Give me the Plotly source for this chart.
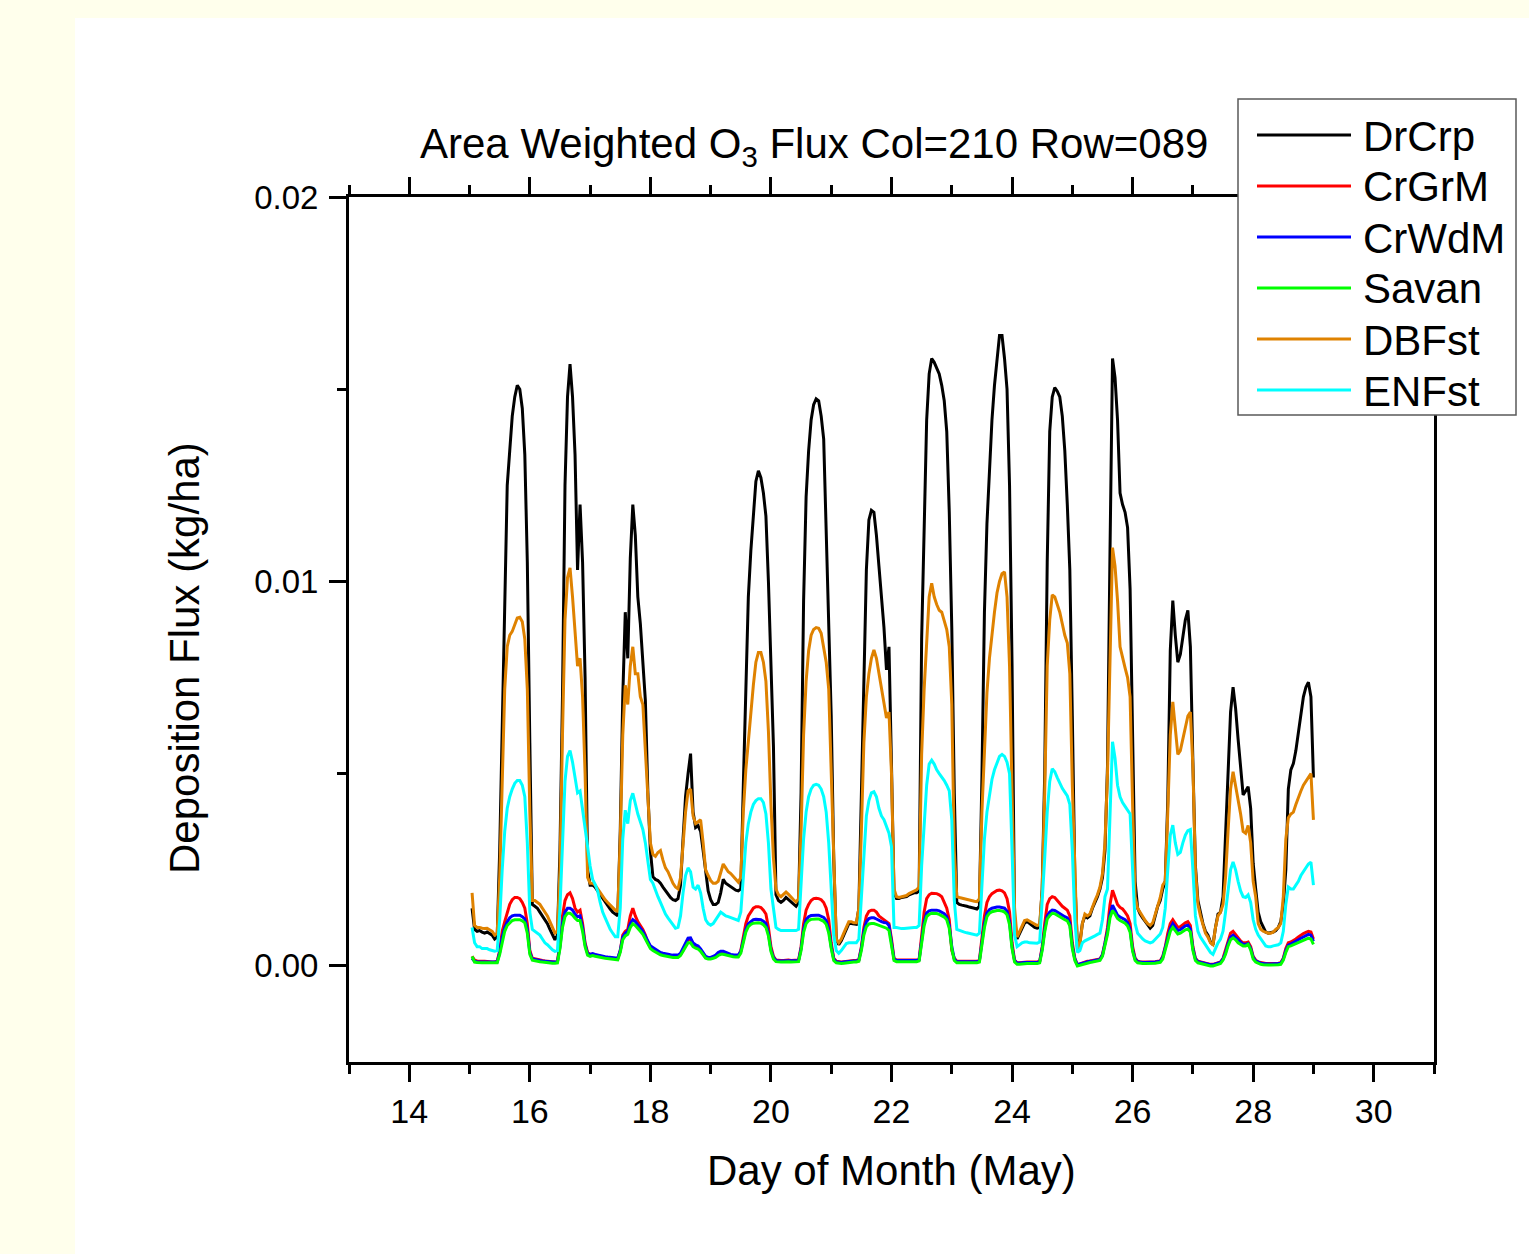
import plotly.graph_objects as go

# ---------------- data (hourly, units of 1e-5 kg/ha) ----------------
# each row = one day, hours 01..24 (hour 24 = 00 of next day); first row starts 15 May 01:00
start_day = 15
series_names = ["DrCrp", "CrGrM", "CrWdM", "Savan", "DBFst", "ENFst"]
series_colors = ["#000000", "#FF0000", "#0000FF", "#00FF00", "#DF8200", "#00FFFF"]

DrCrp = [
    [150,95,90,92,88,85,88,85,80,70,75,300,620,980,1250,1340,1430,1480,1510,1500,1450,1330,1050,580],
    [160,155,150,140,130,120,110,95,80,68,80,300,700,1250,1480,1565,1480,1330,1030,1200,1050,750,250,210],
    [210,205,195,185,175,165,155,148,140,135,130,350,700,920,800,1060,1200,1120,960,890,800,690,450,300],
    [232,225,222,215,205,195,185,178,172,170,175,210,330,440,500,552,400,360,365,350,300,240,195,172],
    [160,160,165,190,225,215,210,205,200,197,195,200,470,750,960,1080,1180,1260,1288,1270,1230,1170,1000,780],
    [570,185,170,165,170,178,172,165,160,155,165,450,950,1220,1340,1420,1460,1475,1470,1430,1370,1120,900,650],
    [280,70,55,65,80,95,110,110,108,108,150,450,800,1030,1160,1185,1180,1120,1040,960,880,770,830,520],
    [190,175,175,178,180,180,185,188,190,190,195,850,1180,1420,1540,1580,1570,1555,1540,1510,1470,1390,1180,880],
    [450,165,160,158,157,155,153,152,150,148,155,490,920,1150,1300,1420,1510,1585,1640,1640,1580,1500,1250,780],
    [120,70,85,100,112,115,110,105,100,98,100,200,500,1050,1390,1480,1504,1495,1480,1430,1340,1200,1030,650],
    [230,50,60,110,130,125,130,150,165,180,200,230,300,520,1080,1580,1530,1420,1230,1200,1180,1140,980,550],
    [220,150,135,125,115,105,98,105,130,155,170,200,220,430,820,950,860,790,810,860,900,925,830,530],
    [260,170,137,110,90,80,62,55,100,135,140,180,340,520,660,725,670,590,510,445,455,466,410,267],
    [200,140,115,100,88,85,86,88,92,100,115,160,250,460,510,526,560,610,660,700,725,738,700,490],
]

CrGrM = [
    [25,15,13,12,12,12,11,11,10,10,12,40,90,115,135,160,172,178,178,175,165,150,110,40],
    [20,18,16,15,14,13,12,12,11,10,12,60,130,170,185,190,175,150,140,145,110,60,35,30],
    [30,28,26,25,24,22,21,20,19,18,18,40,80,90,95,130,150,130,115,105,95,80,60,50],
    [45,40,35,32,30,28,27,26,25,25,25,30,40,55,68,70,55,50,48,40,30,22,20,20],
    [22,25,30,32,32,30,28,27,26,25,25,40,80,110,130,142,150,154,154,152,145,135,100,50],
    [25,15,14,14,14,15,15,14,14,14,15,50,110,145,160,170,175,176,175,172,165,150,120,60],
    [20,12,10,10,11,12,13,14,14,14,16,50,100,130,142,145,145,140,130,125,120,115,110,70],
    [20,15,15,15,15,15,15,15,15,15,17,80,140,175,185,189,189,188,185,180,165,150,120,40],
    [20,12,12,12,12,12,12,12,12,12,14,70,130,165,180,188,193,196,197,195,190,175,140,60],
    [15,8,8,9,10,10,10,10,10,10,12,50,110,160,175,180,178,170,162,155,150,145,130,60],
    [20,3,5,8,10,12,13,14,15,16,18,30,60,100,160,197,180,160,152,148,140,130,110,50],
    [20,12,10,10,10,10,10,10,11,12,13,25,50,85,110,120,110,100,102,108,112,115,105,50],
    [20,12,10,8,6,5,4,4,6,8,10,20,40,65,85,90,82,72,65,60,60,62,50,25],
    [15,10,8,7,6,6,6,6,6,7,8,20,45,60,62,65,70,75,80,84,87,90,88,70],
]

CrWdM = [
    [20,12,11,10,10,10,10,10,9,9,10,35,75,100,115,125,130,132,132,132,128,122,95,35],
    [18,16,15,14,13,12,11,11,10,10,11,50,110,140,150,150,145,135,128,130,100,55,32,30],
    [32,30,28,27,26,24,23,22,21,20,20,40,75,85,90,110,120,115,105,98,90,78,62,52],
    [48,43,38,35,33,31,30,29,28,28,28,33,45,60,72,73,60,55,52,44,34,25,22,22],
    [25,28,35,38,38,35,32,30,29,28,28,38,70,95,110,116,120,121,121,120,116,110,85,42],
    [22,14,13,13,13,14,14,13,13,13,14,45,95,120,128,131,132,132,132,130,126,118,95,50],
    [18,11,9,9,10,11,12,13,13,13,15,45,90,115,123,125,125,122,118,115,113,112,105,65],
    [18,14,14,14,14,14,14,14,14,14,16,70,115,138,143,145,145,145,143,140,136,128,105,50],
    [18,11,11,11,11,11,11,11,11,11,13,60,110,138,146,150,152,153,153,152,150,142,115,50],
    [14,7,7,8,9,9,9,9,9,9,11,45,95,130,140,145,144,140,135,130,128,125,112,50],
    [18,3,5,8,9,11,12,13,14,15,17,28,55,90,135,158,145,132,127,124,120,112,95,42],
    [18,11,9,9,9,9,9,9,10,11,12,22,45,75,98,110,100,92,94,100,104,106,96,45],
    [18,11,9,7,5,4,3,3,5,7,9,18,35,58,75,80,74,66,60,56,56,58,46,22],
    [13,9,7,6,5,5,5,5,5,6,7,18,40,54,57,60,64,68,72,76,79,82,80,64],
]

Savan = [
    [25,10,9,8,8,8,8,8,7,7,8,30,65,90,105,113,118,120,120,120,117,112,85,30],
    [15,13,12,11,10,9,8,8,7,7,8,45,100,128,137,137,132,124,118,118,90,50,28,25],
    [27,25,23,22,21,20,19,18,17,16,16,35,68,78,82,100,110,105,96,90,82,70,55,45],
    [40,36,32,29,27,25,24,23,22,22,22,27,38,52,60,60,50,46,44,38,28,20,18,18],
    [20,22,27,30,30,28,26,25,24,23,23,33,63,88,102,108,111,112,112,111,107,100,78,38],
    [18,11,10,10,10,11,11,10,10,10,11,40,87,110,118,121,122,122,122,120,116,108,86,45],
    [14,8,6,6,7,8,9,10,10,10,12,40,80,102,109,110,110,108,105,102,100,98,92,58],
    [14,11,11,11,11,11,11,11,11,11,13,63,105,128,134,137,137,136,134,131,127,120,98,45],
    [14,8,8,8,8,8,8,8,8,8,10,55,100,128,137,141,143,144,144,143,140,133,107,45],
    [10,4,4,5,6,6,6,6,6,6,8,40,88,122,131,137,136,132,127,122,120,117,104,45],
    [14,0,2,5,6,8,9,10,11,12,14,25,50,82,125,144,135,123,118,115,111,104,88,38],
    [14,8,6,6,6,6,6,6,7,8,9,18,40,68,90,100,92,83,85,90,94,96,88,40],
    [14,8,6,4,2,1,0,0,2,4,6,15,30,52,68,73,68,60,55,52,52,56,42,18],
    [10,6,4,3,2,2,2,2,2,3,4,15,35,50,52,55,58,62,65,68,70,72,70,56],
]

DBFst = [
    [190,105,100,100,98,97,98,95,90,80,85,230,500,720,830,860,870,890,905,907,895,850,720,400],
    [170,170,165,160,150,140,130,115,100,85,90,250,600,900,1010,1035,960,860,780,800,700,500,230,215],
    [215,210,200,190,180,172,165,158,150,145,142,330,600,730,680,780,830,760,760,700,680,560,420,320],
    [290,285,295,300,275,255,245,230,215,205,200,230,320,400,455,460,390,370,375,380,320,250,235,222],
    [215,215,220,245,265,255,245,240,232,225,218,230,400,510,590,660,730,790,815,815,790,740,610,420],
    [280,200,185,180,185,192,186,178,172,166,175,350,600,740,820,860,875,880,878,865,830,790,720,480],
    [250,70,60,70,85,100,115,115,112,112,150,350,580,700,760,800,822,800,760,730,690,645,660,500],
    [200,180,178,180,182,183,188,192,196,198,205,550,720,850,960,995,960,940,925,920,900,875,830,680],
    [300,180,178,176,174,172,170,169,168,167,175,400,580,710,800,870,920,970,1000,1020,1025,960,780,450],
    [150,75,90,105,118,120,116,112,108,105,108,200,450,780,900,965,960,940,920,890,860,840,760,470],
    [250,45,55,110,135,130,135,155,170,185,205,240,320,500,820,1088,1040,950,830,800,775,750,700,420],
    [180,150,138,128,118,110,105,112,135,160,178,210,220,400,600,687,620,550,560,590,620,650,660,520],
    [250,160,130,105,85,75,60,55,100,130,140,160,230,350,460,505,470,430,395,350,345,365,320,220],
    [180,110,95,90,87,85,85,88,95,100,110,180,330,385,395,400,420,440,455,470,480,490,500,380],
]

ENFst = [
    [100,60,50,50,45,45,45,42,40,38,40,120,250,350,410,440,460,475,482,482,470,440,320,140],
    [95,90,85,80,70,60,55,48,42,38,40,150,330,480,545,560,530,490,450,455,410,360,310,260],
    [225,212,195,165,140,125,110,95,85,76,76,150,330,405,370,430,449,420,395,375,355,320,270,225],
    [215,195,180,165,150,135,125,115,105,98,100,130,190,235,255,245,205,200,210,190,150,120,110,106],
    [110,120,130,140,135,130,128,125,122,120,118,140,230,320,370,400,420,430,435,435,425,395,320,200],
    [150,100,95,92,92,92,92,92,92,92,95,200,330,400,440,460,470,472,470,460,440,400,320,200],
    [80,40,33,40,50,58,60,60,60,60,70,180,300,390,430,450,453,440,410,390,380,360,345,310],
    [100,100,98,97,97,98,99,100,100,100,105,260,380,470,525,535,525,510,500,492,482,470,455,380],
    [170,95,92,90,88,86,84,82,81,80,85,200,330,400,450,485,510,530,545,550,545,530,500,300],
    [80,50,55,60,62,62,60,60,59,59,62,160,280,400,480,513,505,490,475,462,452,442,420,300],
    [120,35,40,60,65,68,70,75,78,82,85,120,180,200,380,583,540,470,440,425,415,405,395,250],
    [110,85,76,70,65,62,60,62,70,78,83,100,150,250,340,366,320,290,295,320,340,352,355,250],
    [130,90,75,65,55,48,35,30,45,60,70,90,140,200,250,270,250,220,195,180,178,185,165,120],
    [95,80,70,60,52,50,50,52,53,55,60,90,160,205,200,200,210,220,235,245,255,265,270,210],
]

UNIT = 1e-5  # kg/ha per stored unit

x_tick_vals = [14, 16, 18, 20, 22, 24, 26, 28, 30]
y_tick_vals = [0.00, 0.01, 0.02]
y_tick_text = ["0.00", "0.01", "0.02"]

title_text = "Area Weighted O<sub>3</sub> Flux Col=210 Row=089"
x_title = "Day of Month (May)"
y_title = "Deposition Flux (kg/ha)"

# ---------------- figure ----------------
W, H = 1529, 1254
L, R, T, B = 349, 1434, 197, 1062  # plot area in pixels


def px(xp):
    return (xp - L) / (R - L)


def py(yp):
    return (B - yp) / (B - T)


FONT = "Arial, 'Liberation Sans', sans-serif"

all_series = [DrCrp, CrGrM, CrWdM, Savan, DBFst, ENFst]

fig = go.Figure()
for name, color, rows in zip(series_names, series_colors, all_series):
    vals = [v * UNIT for row in rows for v in row]
    times = [start_day + (i + 1) / 24.0 for i in range(len(vals))]
    fig.add_trace(go.Scatter(
        x=times, y=vals, mode="lines", name=name,
        line=dict(color=color, width=3), showlegend=False,
    ))

shapes = [
    # white panel over pale-yellow page
    dict(type="rect", xref="paper", yref="paper",
         x0=px(75), x1=px(W + 5), y0=py(H + 5), y1=py(18),
         fillcolor="white", line=dict(width=0), layer="below"),
    # legend box
    dict(type="rect", xref="paper", yref="paper",
         x0=px(1238), x1=px(1516), y0=py(415), y1=py(99),
         fillcolor="white", line=dict(color="#5a5a5a", width=1.5), layer="above"),
]
annotations = []
legend_rows = [135, 186, 237, 288, 339, 390]
for name, color, yr in zip(series_names, series_colors, legend_rows):
    shapes.append(dict(type="line", xref="paper", yref="paper",
                       x0=px(1257), x1=px(1351), y0=py(yr), y1=py(yr),
                       line=dict(color=color, width=3), layer="above"))
    annotations.append(dict(text=name, xref="paper", yref="paper",
                            x=px(1361), y=py(yr + 1), xanchor="left", yanchor="middle",
                            showarrow=False, font=dict(family=FONT, size=42, color="black")))

annotations += [
    dict(text=title_text, xref="paper", yref="paper", x=px(814), y=py(147),
         xanchor="center", yanchor="middle", showarrow=False,
         font=dict(family=FONT, size=42, color="black")),
    dict(text=x_title, xref="paper", yref="paper", x=px(891), y=py(1170),
         xanchor="center", yanchor="middle", showarrow=False,
         font=dict(family=FONT, size=42, color="black")),
    dict(text=y_title, xref="paper", yref="paper", x=px(184), y=py(658),
         xanchor="center", yanchor="middle", showarrow=False, textangle=-90,
         font=dict(family=FONT, size=42, color="black")),
]

fig.update_layout(
    width=W, height=H, autosize=False,
    margin=dict(l=L, r=W - R, t=T, b=H - B, pad=0),
    paper_bgcolor="#FFFFEC", plot_bgcolor="white",
    showlegend=False,
    shapes=shapes, annotations=annotations,
    font=dict(family=FONT, color="black"),
)
fig.update_xaxes(
    range=[13, 31], tickmode="array", tickvals=x_tick_vals,
    ticks="outside", ticklen=17, tickwidth=3, tickcolor="black",
    showline=True, linewidth=3, linecolor="black", mirror="ticks",
    showgrid=False, zeroline=False,
    tickfont=dict(family=FONT, size=34, color="black"),
    minor=dict(dtick=1, tick0=13, ticks="outside", ticklen=9, tickwidth=3,
               tickcolor="black", showgrid=False),
)
fig.update_yaxes(
    range=[-0.0025, 0.02], tickmode="array", tickvals=y_tick_vals, ticktext=y_tick_text,
    ticks="outside", ticklen=17, tickwidth=3, tickcolor="black",
    showline=True, linewidth=3, linecolor="black", mirror=True,
    showgrid=False, zeroline=False, ticklabelstandoff=4,
    tickfont=dict(family=FONT, size=33, color="black"),
    minor=dict(dtick=0.005, tick0=0, ticks="outside", ticklen=9, tickwidth=3,
               tickcolor="black", showgrid=False),
)

fig.write_html("out.html", config={"displayModeBar": False})
